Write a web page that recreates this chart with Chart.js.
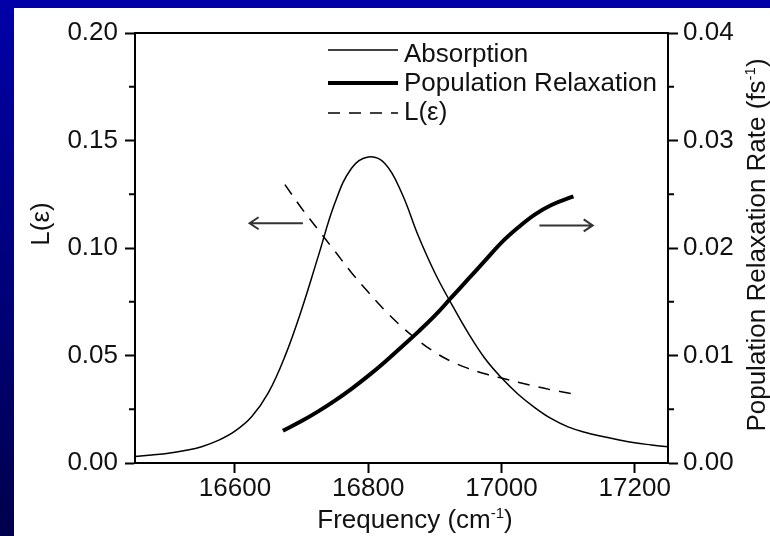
<!DOCTYPE html>
<html>
<head>
<meta charset="utf-8">
<script src="https://cdn.jsdelivr.net/npm/chart.js@4.4.1/dist/chart.umd.min.js"></script>
<style>
  html, body { margin: 0; padding: 0; }
  body {
    width: 770px; height: 536px; overflow: hidden; position: relative;
    background: linear-gradient(180deg, #0000a8 0%, #000074 60%, #00004c 100%);
  }
  #panel { position: absolute; left: 14px; top: 8px; width: 756px; height: 528px; background: #fff; }
</style>
</head>
<body>
<div id="panel"><canvas id="chart" width="756" height="528"></canvas></div>
<script>
// Absorption (arbitrary units, plotted on the left scale)
const absFreq  = [16450, 16475, 16500, 16525, 16550, 16575, 16600, 16625, 16650, 16675, 16700, 16725, 16750, 16775, 16800, 16825, 16850, 16875, 16900, 16925, 16950, 16975, 17000, 17025, 17050, 17075, 17100, 17125, 17150, 17175, 17200, 17225, 17250];
const absValue = [0.0030, 0.0037, 0.0045, 0.0058, 0.0076, 0.0105, 0.0148, 0.0215, 0.0326, 0.0496, 0.0713, 0.0961, 0.1209, 0.1371, 0.1423, 0.1393, 0.1258, 0.1058, 0.0885, 0.0740, 0.0605, 0.0487, 0.0396, 0.0320, 0.0258, 0.0206, 0.0168, 0.0143, 0.0124, 0.0108, 0.0094, 0.0084, 0.0075];

// Population relaxation rate (fs^-1, right scale)
const popFreq = [16672, 16700, 16725, 16750, 16775, 16800, 16825, 16850, 16875, 16900, 16925, 16950, 16975, 17000, 17025, 17050, 17075, 17108];
const popRate = [0.0030, 0.0039, 0.0048, 0.0058, 0.0069, 0.0081, 0.0094, 0.0108, 0.0122, 0.0137, 0.0154, 0.0171, 0.0188, 0.0205, 0.0219, 0.0231, 0.0240, 0.0248];

// L(eps) (left scale)
const lFreq  = [16675, 16700, 16725, 16750, 16775, 16800, 16825, 16850, 16875, 16900, 16925, 16950, 16975, 17000, 17025, 17050, 17075, 17105];
const lValue = [0.1295, 0.1185, 0.1085, 0.0985, 0.0885, 0.0795, 0.0710, 0.0635, 0.0570, 0.0515, 0.0472, 0.0440, 0.0415, 0.0395, 0.0376, 0.0357, 0.0340, 0.0323];

// ticks
const xTicks = [16600, 16800, 17000, 17200];
const leftTicks = [0, 0.05, 0.10, 0.15, 0.20];
const leftMinor = [0.025, 0.075, 0.125, 0.175];
const rightTicks = [0, 0.01, 0.02, 0.03, 0.04];
const rightMinor = [0.005, 0.015, 0.025, 0.035];

// arrows: [from x, to x, y on left scale]
const arrowLeft = [16702, 16622, 0.1115];
const arrowRight = [17057, 17137, 0.1105];

const FONT = "'Liberation Sans', Arial, Helvetica, sans-serif";

function pts(xs, ys) { return xs.map((x, i) => ({ x: x, y: ys[i] })); }

// texte avec exposant
function drawRich(ctx, parts, cx, cy, angle) {
  ctx.save();
  ctx.translate(cx, cy);
  ctx.rotate(angle);
  ctx.textAlign = 'left';
  ctx.textBaseline = 'alphabetic';
  ctx.fillStyle = '#111';
  let total = 0;
  parts.forEach(p => {
    ctx.font = (p.sup ? '15px ' : '26px ') + FONT;
    p.w = ctx.measureText(p.t).width;
    total += p.w;
  });
  let x = -total / 2;
  parts.forEach(p => {
    ctx.font = (p.sup ? '15px ' : '26px ') + FONT;
    ctx.fillText(p.t, x, p.sup ? -10 : 0);
    x += p.w;
  });
  ctx.restore();
}

const extras = {
  id: 'extras',
  afterDraw(chart) {
    const { ctx, chartArea: a, scales } = chart;
    ctx.save();
    ctx.strokeStyle = '#000';
    ctx.lineWidth = 2;

    // cadre haut
    ctx.beginPath();
    ctx.moveTo(a.left - 1, a.top);
    ctx.lineTo(a.right + 1, a.top);
    ctx.stroke();

    // petites graduations
    ctx.beginPath();
    leftMinor.forEach(v => {
      const y = scales.y.getPixelForValue(v);
      ctx.moveTo(a.left - 6, y); ctx.lineTo(a.left, y);
    });
    rightMinor.forEach(v => {
      const y = scales.y2.getPixelForValue(v);
      ctx.moveTo(a.right, y); ctx.lineTo(a.right + 6, y);
    });
    ctx.stroke();

    // flèches
    ctx.strokeStyle = '#333';
    [arrowLeft, arrowRight].forEach(ar => {
      const x0 = scales.x.getPixelForValue(ar[0]);
      const x1 = scales.x.getPixelForValue(ar[1]);
      const y = scales.y.getPixelForValue(ar[2]);
      const d = x1 > x0 ? -1 : 1;
      ctx.beginPath();
      ctx.moveTo(x0, y); ctx.lineTo(x1, y);
      ctx.moveTo(x1 + d * 9, y - 6); ctx.lineTo(x1, y); ctx.lineTo(x1 + d * 9, y + 6);
      ctx.stroke();
    });

    // légende
    const rowY = [42, 75, 105];
    const textY = [54, 83, 112];
    chart.data.datasets.forEach((ds, i) => {
      ctx.strokeStyle = ds.borderColor;
      ctx.lineWidth = ds.borderWidth;
      ctx.setLineDash(ds.borderDash || []);
      ctx.beginPath();
      ctx.moveTo(314, rowY[i]); ctx.lineTo(384, rowY[i]);
      ctx.stroke();
      ctx.setLineDash([]);
      ctx.fillStyle = '#111';
      ctx.font = '26px ' + FONT;
      ctx.textAlign = 'left';
      ctx.textBaseline = 'alphabetic';
      ctx.fillText(ds.label, 390, textY[i]);
    });

    // titres des axes
    drawRich(ctx, [{ t: 'Frequency (cm' }, { t: '-1', sup: true }, { t: ')' }], 401, 520, 0);
    drawRich(ctx, [{ t: 'L(ε)' }], 35, 216, -Math.PI / 2);
    drawRich(ctx, [{ t: 'Population Relaxation Rate (fs' }, { t: '-1', sup: true }, { t: ')' }], 751, 237, -Math.PI / 2);
    ctx.restore();
  }
};

const tickFont = { family: FONT, size: 26 };
const axisGrid = { drawOnChartArea: false, tickLength: 10, tickWidth: 2, tickColor: '#000' };
const axisBorder = { color: '#000', width: 2 };

new Chart(document.getElementById('chart'), {
  type: 'line',
  data: {
    datasets: [
      { label: 'Absorption', data: pts(absFreq, absValue), yAxisID: 'y',
        borderColor: '#000', borderWidth: 1.5, pointRadius: 0, tension: 0.4 },
      { label: 'Population Relaxation', data: pts(popFreq, popRate), yAxisID: 'y2',
        borderColor: '#000', borderWidth: 4, pointRadius: 0, tension: 0.4 },
      { label: 'L(ε)', data: pts(lFreq, lValue), yAxisID: 'y',
        borderColor: '#000', borderWidth: 1.5, borderDash: [12, 9], pointRadius: 0, tension: 0.4 }
    ]
  },
  options: {
    responsive: false,
    animation: false,
    events: [],
    layout: { padding: { top: 25, left: 0, right: 0, bottom: 0 } },
    plugins: { legend: { display: false }, tooltip: { enabled: false } },
    scales: {
      x: {
        type: 'linear', min: 16450, max: 17250,
        afterBuildTicks: s => { s.ticks = xTicks.map(v => ({ value: v })); },
        afterFit: s => { s.height = 73; },
        ticks: { font: tickFont, color: '#111', padding: 0, maxRotation: 0, autoSkip: false,
                 callback: v => String(v) },
        grid: axisGrid, border: axisBorder
      },
      y: {
        position: 'left', min: 0, max: 0.2,
        afterBuildTicks: s => { s.ticks = leftTicks.map(v => ({ value: v })); },
        afterFit: s => { s.width = 121; },
        ticks: { font: tickFont, color: '#111', padding: 7, callback: v => v.toFixed(2) },
        grid: axisGrid, border: axisBorder
      },
      y2: {
        position: 'right', min: 0, max: 0.04,
        afterBuildTicks: s => { s.ticks = rightTicks.map(v => ({ value: v })); },
        afterFit: s => { s.width = 102; },
        ticks: { font: tickFont, color: '#111', padding: 5, callback: v => v.toFixed(2) },
        grid: axisGrid, border: axisBorder
      }
    }
  },
  plugins: [extras]
});
</script>
</body>
</html>
